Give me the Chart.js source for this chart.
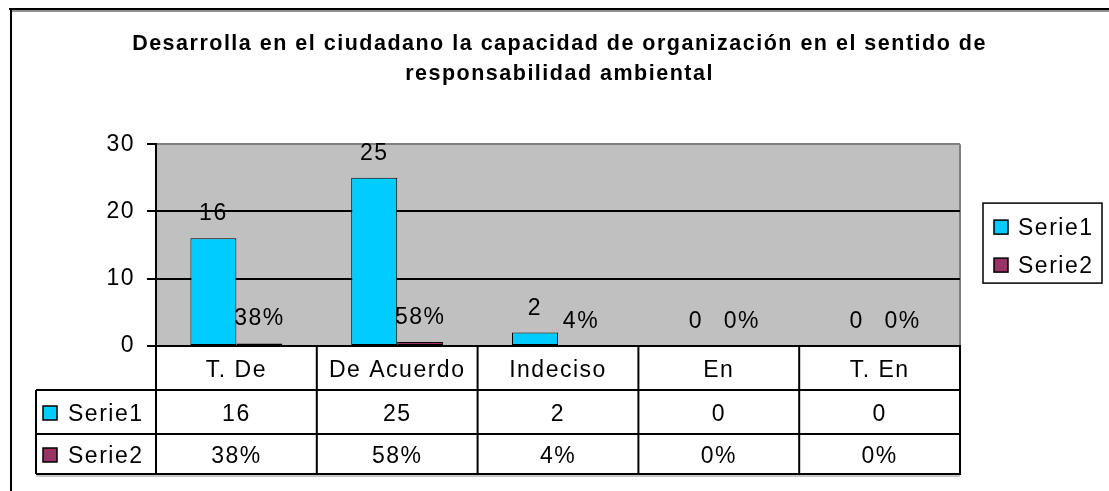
<!DOCTYPE html>
<html>
<head>
<meta charset="utf-8">
<script src="https://cdn.jsdelivr.net/npm/chart.js@4.4.1/dist/chart.umd.min.js"></script>
<style>
html,body{margin:0;padding:0;background:#fff;}
#wrap{width:1109px;height:491px;position:relative;}
</style>
</head>
<body>
<div id="wrap"><canvas id="grafico"></canvas></div>
<script>
const categorias=["T. De","De Acuerdo","Indeciso","En","T. En"];
const serie1=[16,25,2,0,0];
const serie2Pct=[38,58,4,0,0];
const ticksY=[0,10,20,30];
const titulo=["Desarrolla en el ciudadano la capacidad de organización en el sentido de","responsabilidad ambiental"];
const nombres=["Serie1","Serie2"];
const colores=["#00CCFF","#993366"];

const fuente="'Liberation Sans', Arial, sans-serif";
const tam=23;
Chart.defaults.font.family=fuente;
Chart.defaults.font.size=tam;
Chart.defaults.color="#000";

function etiqueta(d,i){
if(d==0) return String(serie1[i]);
return serie2Pct[i]+"%";
}

function cuadro(ctx,x,y,color){
ctx.fillStyle=color;
ctx.fillRect(x,y,14,14);
ctx.strokeStyle="#000";
ctx.lineWidth=1.5;
ctx.strokeRect(x,y,14,14);
}

function linea(ctx,x1,y1,x2,y2,color,w){
ctx.beginPath();
ctx.strokeStyle=color;
ctx.lineWidth=w;
ctx.moveTo(x1,y1);
ctx.lineTo(x2,y2);
ctx.stroke();
}

const estiloExcel={
id:"estiloExcel",
beforeDraw(chart){
const ctx=chart.ctx;
const a=chart.chartArea;
ctx.letterSpacing="1.5px";
ctx.save();
ctx.fillStyle="#fff";
ctx.fillRect(0,0,chart.width,chart.height);
// marco exterior (recortado a la derecha y abajo)
linea(ctx,10,11,chart.width+5,11,"#909090",2);
linea(ctx,9,9,chart.width+5,9,"#000",2);
linea(ctx,11,9,11,chart.height+5,"#000",2);
// fondo del area de trazado
ctx.fillStyle="#C0C0C0";
ctx.fillRect(a.left,a.top,a.right-a.left,a.bottom-a.top);
linea(ctx,a.right,a.top,a.right,a.bottom,"#808080",2);
ctx.restore();
},
afterDatasetsDraw(chart){
const ctx=chart.ctx;
ctx.save();
ctx.font=tam+"px "+fuente;
ctx.fillStyle="#000";
ctx.textAlign="center";
ctx.textBaseline="alphabetic";
chart.data.datasets.forEach((ds,d)=>{
chart.getDatasetMeta(d).data.forEach((bar,i)=>{
ctx.fillText(etiqueta(d,i),bar.x,bar.y-18);
});
});
ctx.restore();
},
afterDraw(chart){
const ctx=chart.ctx;
const a=chart.chartArea;
const x=chart.scales.x;
const n=categorias.length;
const ancho=(a.right-a.left)/n;
const y1=a.bottom+44, y2=y1+44, y3=y2+40;
const izq=a.left-120;
ctx.save();
// tabla de datos
linea(ctx,izq,y3+2,a.right,y3+2,"#909090",1);
linea(ctx,izq,y1,a.right,y1,"#000",2);
linea(ctx,izq,y2,a.right,y2,"#000",2);
linea(ctx,izq,y3,a.right+1,y3,"#000",2);
linea(ctx,izq,y1,izq,y3,"#000",2);
for(let i=0;i<=n;i++){
const px=a.left+i*ancho;
linea(ctx,px,a.bottom,px,y3,"#000",2);
}
ctx.font=tam+"px "+fuente;
ctx.fillStyle="#000";
ctx.textAlign="center";
ctx.textBaseline="alphabetic";
categorias.forEach((c,i)=>{
const cx=x.getPixelForValue(i);
ctx.fillText(String(serie1[i]),cx,y1+31);
ctx.fillText(serie2Pct[i]+"%",cx,y2+29);
});
ctx.textAlign="left";
const filas=[y1,y2];
chart.data.datasets.forEach((ds,d)=>{
const cy=filas[d]+(d==0?23:21);
cuadro(ctx,izq+7,cy-7,ds.backgroundColor);
ctx.fillStyle="#000";
ctx.fillText(ds.label,izq+32,cy+8);
});
// leyenda
const cy=(a.top+a.bottom)/2-2;
const lx=a.right+23, ly=cy-40;
ctx.strokeStyle="#000";
ctx.lineWidth=1.5;
ctx.strokeRect(lx,ly,119,80);
chart.data.datasets.forEach((ds,d)=>{
const iy=ly+24+d*38;
cuadro(ctx,lx+11,iy-7,ds.backgroundColor);
ctx.fillStyle="#000";
ctx.fillText(ds.label,lx+35,iy+8);
});
ctx.restore();
}
};

new Chart(document.getElementById("grafico"),{

type:"bar",

data:{
labels:categorias,
datasets:[
{label:nombres[0],data:serie1,backgroundColor:colores[0]},
{label:nombres[1],data:serie2Pct.map(p=>p/100),backgroundColor:colores[1]}
]
},

options:{
responsive:true,
maintainAspectRatio:false,
animation:false,
datasets:{
bar:{barPercentage:1,categoryPercentage:0.572,borderColor:"#000",borderWidth:1,borderSkipped:false}
},
layout:{padding:{left:10,right:0,top:0,bottom:101}},
plugins:{
legend:{display:false},
tooltip:{enabled:false},
title:{
display:true,
text:titulo,
color:"#000",
font:{size:21.5,weight:"bold",lineHeight:1.4},
padding:{top:29,bottom:55}
}
},
scales:{
x:{
offset:true,
grid:{display:true,drawOnChartArea:false,drawTicks:false},
border:{display:true,color:"#000",width:2},
ticks:{padding:11,color:"#000"},
afterFit(s){s.height=44;}
},
y:{
min:ticksY[0],
max:ticksY[ticksY.length-1],
afterBuildTicks(s){s.ticks=ticksY.map(v=>({value:v}));},
grid:{
color:c=>c.tick&&c.tick.value==ticksY[ticksY.length-1]?"#808080":"#000",
tickColor:"#000",
lineWidth:2,
tickLength:9
},
border:{color:"#000",width:2},
ticks:{padding:12,color:"#000"},
afterFit(s){s.width=146;}
},
// espacio reservado a la derecha para la leyenda
leyenda:{
type:"linear",
position:"right",
display:true,
grid:{display:false},
border:{display:false},
ticks:{display:false},
afterFit(s){s.width=149;}
}
}
},

plugins:[estiloExcel]

});
</script>
</body>
</html>
